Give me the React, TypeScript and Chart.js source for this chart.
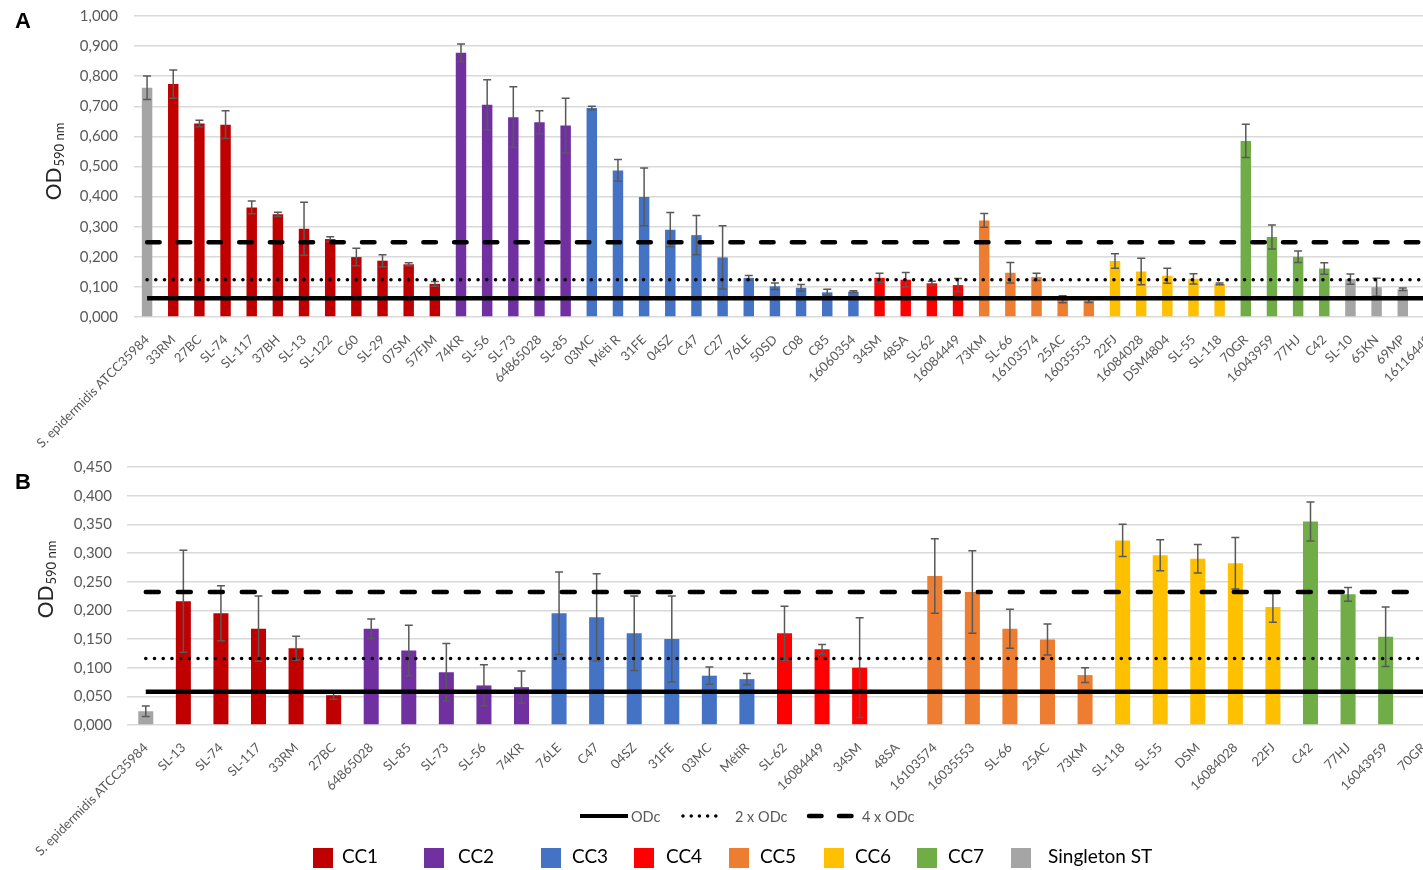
import React, { useEffect, useRef } from 'react';
import { Chart, registerables } from 'chart.js';

Chart.register(...registerables);
Chart.defaults.font.family = "Lato, 'Open Sans', sans-serif";

// ---------- colours per clonal complex ----------
const GROUP_COLORS: Record<string, string> = {
  CC1: '#C00000',
  CC2: '#7030A0',
  CC3: '#4472C4',
  CC4: '#FF0000',
  CC5: '#ED7D31',
  CC6: '#FFC000',
  CC7: '#70AD47',
  ST: '#A5A5A5',
};
const legendGroups = ['CC1', 'CC2', 'CC3', 'CC4', 'CC5', 'CC6', 'CC7', 'ST'];
const legendNames = ['CC1', 'CC2', 'CC3', 'CC4', 'CC5', 'CC6', 'CC7', 'Singleton ST'];
const lineLegendNames = ['ODc', '2 x ODc', '4 x ODc'];

// ---------- Panel A ----------
const labelsA = [
  'S. epidermidis ATCC35984', '33RM', '27BC', 'SL-74', 'SL-117', '37BH', 'SL-13', 'SL-122', 'C60', 'SL-29', '07SM', '57FJM',
  '74KR', 'SL-56', 'SL-73', '64865028', 'SL-85',
  '03MC', 'Méti R', '31FE', '04SZ', 'C47', 'C27', '76LE', '50SD', 'C08', 'C85', '16060354',
  '34SM', '48SA', 'SL-62', '16084449',
  '73KM', 'SL-66', '16103574', '25AC', '16035553',
  '22FJ', '16084028', 'DSM4804', 'SL-55', 'SL-118',
  '70GR', '16043959', '77HJ', 'C42',
  'SL-10', '65KN', '69MP', '16116449',
];
const groupsA = [
  'ST', 'CC1', 'CC1', 'CC1', 'CC1', 'CC1', 'CC1', 'CC1', 'CC1', 'CC1', 'CC1', 'CC1',
  'CC2', 'CC2', 'CC2', 'CC2', 'CC2',
  'CC3', 'CC3', 'CC3', 'CC3', 'CC3', 'CC3', 'CC3', 'CC3', 'CC3', 'CC3', 'CC3',
  'CC4', 'CC4', 'CC4', 'CC4',
  'CC5', 'CC5', 'CC5', 'CC5', 'CC5',
  'CC6', 'CC6', 'CC6', 'CC6', 'CC6',
  'CC7', 'CC7', 'CC7', 'CC7',
  'ST', 'ST', 'ST', 'ST',
];
const valuesA = [
  0.762, 0.774, 0.643, 0.639, 0.364, 0.341, 0.293, 0.259, 0.199, 0.187, 0.175, 0.110,
  0.878, 0.705, 0.664, 0.647, 0.636,
  0.694, 0.487, 0.399, 0.290, 0.272, 0.198, 0.130, 0.102, 0.097, 0.082, 0.084,
  0.130, 0.124, 0.112, 0.106,
  0.321, 0.147, 0.133, 0.059, 0.054,
  0.186, 0.151, 0.137, 0.127, 0.110,
  0.585, 0.266, 0.200, 0.161,
  0.126, 0.099, 0.092, 0.090,
];
const errorsA = [
  0.039, 0.047, 0.011, 0.046, 0.021, 0.007, 0.088, 0.008, 0.029, 0.020, 0.005, 0.008,
  0.029, 0.083, 0.101, 0.038, 0.091,
  0.006, 0.036, 0.096, 0.057, 0.065, 0.105, 0.008, 0.011, 0.011, 0.010, 0.003,
  0.015, 0.024, 0.007, 0.022,
  0.023, 0.034, 0.012, 0.012, 0.006,
  0.024, 0.044, 0.025, 0.017, 0.003,
  0.055, 0.040, 0.019, 0.019,
  0.017, 0.030, 0.004, 0.010,
];
const ODC_A = 0.062;
const yTicksA = { max: 1.0, step: 0.1 };

// ---------- Panel B ----------
const labelsB = [
  'S. epidermidis ATCC35984', 'SL-13', 'SL-74', 'SL-117', '33RM', '27BC',
  '64865028', 'SL-85', 'SL-73', 'SL-56', '74KR',
  '76LE', 'C47', '04SZ', '31FE', '03MC', 'MétiR',
  'SL-62', '16084449', '34SM', '48SA',
  '16103574', '16035553', 'SL-66', '25AC', '73KM',
  'SL-118', 'SL-55', 'DSM', '16084028', '22FJ',
  'C42', '77HJ', '16043959', '70GR',
];
const groupsB = [
  'ST', 'CC1', 'CC1', 'CC1', 'CC1', 'CC1',
  'CC2', 'CC2', 'CC2', 'CC2', 'CC2',
  'CC3', 'CC3', 'CC3', 'CC3', 'CC3', 'CC3',
  'CC4', 'CC4', 'CC4', 'CC4',
  'CC5', 'CC5', 'CC5', 'CC5', 'CC5',
  'CC6', 'CC6', 'CC6', 'CC6', 'CC6',
  'CC7', 'CC7', 'CC7', 'CC7',
];
const valuesB: (number | null)[] = [
  0.024, 0.216, 0.195, 0.168, 0.134, 0.052,
  0.168, 0.130, 0.092, 0.069, 0.066,
  0.195, 0.188, 0.160, 0.150, 0.086, 0.080,
  0.160, 0.132, 0.100, null,
  0.260, 0.232, 0.168, 0.149, 0.087,
  0.322, 0.296, 0.290, 0.282, 0.206,
  0.355, 0.228, 0.154, null,
];
const errorsB = [
  0.009, 0.089, 0.048, 0.057, 0.021, 0.007,
  0.017, 0.044, 0.050, 0.036, 0.028,
  0.072, 0.076, 0.065, 0.075, 0.015, 0.010,
  0.047, 0.0085, 0.087, 0,
  0.065, 0.072, 0.034, 0.027, 0.013,
  0.028, 0.027, 0.025, 0.045, 0.027,
  0.034, 0.012, 0.052, 0,
];
const ODC_B = 0.058;
const yTicksB = { max: 0.45, step: 0.05 };

// ---------- plugins ----------
const errorBarPlugin = {
  id: 'errorBars',
  afterDatasetDraw(chart: any, args: any) {
    const ds: any = chart.data.datasets[args.index];
    if (!ds.errors) return;
    const y = chart.scales.y;
    const ctx = chart.ctx;
    ctx.save();
    ctx.strokeStyle = '#595959';
    ctx.lineWidth = 1.5;
    args.meta.data.forEach((el: any, i: number) => {
      const v = ds.data[i];
      const e = ds.errors[i];
      if (v == null || !e) return;
      const yt = y.getPixelForValue(v + e);
      const yb = y.getPixelForValue(v - e);
      const x = el.x;
      const cap = 4;
      ctx.beginPath();
      ctx.moveTo(x, yt);
      ctx.lineTo(x, yb);
      ctx.moveTo(x - cap, yt);
      ctx.lineTo(x + cap, yt);
      ctx.moveTo(x - cap, yb);
      ctx.lineTo(x + cap, yb);
      ctx.stroke();
    });
    ctx.restore();
  },
};

const odTitlePlugin = {
  id: 'odTitle',
  afterDraw(chart: any, _args: any, opts: any) {
    const ctx = chart.ctx;
    ctx.save();
    ctx.translate(opts.x, opts.y);
    ctx.rotate(-Math.PI / 2);
    ctx.fillStyle = '#262626';
    ctx.textAlign = 'left';
    ctx.textBaseline = 'alphabetic';
    const big = "21px Lato, 'Open Sans', sans-serif";
    const small = "13px Lato, 'Open Sans', sans-serif";
    ctx.font = big;
    const w1 = ctx.measureText('OD').width;
    ctx.font = small;
    const w2 = ctx.measureText('590 nm').width;
    const start = -(w1 + w2) / 2;
    ctx.font = big;
    ctx.fillText('OD', start, 0);
    ctx.font = small;
    ctx.fillText('590 nm', start + w1 + 1, 3);
    ctx.restore();
  },
};

type Params = {
  labels: string[];
  values: (number | null)[];
  errors: number[];
  groups: string[];
  odc: number;
  yMax: number;
  step: number;
  padTop: number;
  yWidth: number;
  xHeight: number;
  tickPad: number;
  titleX: number;
  titleY: number;
  dash: number[];
};

function makeConfig(p: Params): any {
  return {
    type: 'bar',
    data: {
      labels: p.labels,
      datasets: [
        {
          type: 'line', label: lineLegendNames[0], data: p.labels.map(() => p.odc),
          borderColor: '#000', borderWidth: 4.5, pointRadius: 0, order: 0,
        },
        {
          type: 'line', label: lineLegendNames[1], data: p.labels.map(() => 2 * p.odc),
          borderColor: '#000', borderWidth: 3.6, borderDash: [0.01, 8.7], borderCapStyle: 'round',
          pointRadius: 0, order: 0,
        },
        {
          type: 'line', label: lineLegendNames[2], data: p.labels.map(() => 4 * p.odc),
          borderColor: '#000', borderWidth: 4.5, borderDash: p.dash, borderCapStyle: 'round',
          pointRadius: 0, order: 0,
        },
        {
          type: 'bar', label: 'OD590', data: p.values, errors: p.errors,
          backgroundColor: p.groups.map((g) => GROUP_COLORS[g]),
          barPercentage: 0.4, categoryPercentage: 1, order: 1,
        },
      ],
    },
    options: {
      responsive: false,
      animation: false,
      devicePixelRatio: 1,
      layout: { padding: { top: p.padTop, right: 8, bottom: 0, left: 0 } },
      plugins: {
        legend: { display: false },
        tooltip: { enabled: false },
        odTitle: { x: p.titleX, y: p.titleY },
      },
      scales: {
        x: {
          grid: { display: false },
          border: { display: false },
          ticks: {
            autoSkip: false, minRotation: 45, maxRotation: 45,
            color: '#595959', font: { size: 13 }, padding: 7,
          },
          afterFit: (s: any) => { s.height = p.xHeight; },
        },
        y: {
          min: 0, max: p.yMax,
          ticks: {
            stepSize: p.step, color: '#595959', font: { size: 15 }, padding: p.tickPad,
            callback: (v: any) => Number(v).toFixed(3).replace('.', ','),
          },
          grid: { color: '#D9D9D9', lineWidth: 1.5, drawTicks: false },
          border: { display: false },
          afterFit: (s: any) => {
            s.width = p.yWidth;
            s.paddingTop = 0;
            s.paddingBottom = 0;
          },
        },
      },
    },
    plugins: [errorBarPlugin, odTitlePlugin],
  };
}

function ChartCanvas({ config, width, height, top }: { config: any; width: number; height: number; top: number }) {
  const ref = useRef<HTMLCanvasElement>(null);
  useEffect(() => {
    const chart = new Chart(ref.current as HTMLCanvasElement, config);
    return () => chart.destroy();
  }, []);
  return (
    <canvas
      ref={ref}
      width={width}
      height={height}
      style={{ position: 'absolute', left: 0, top, width, height, display: 'block' }}
    />
  );
}

const legendBoxLefts = [313, 424, 541, 634, 729, 824, 917, 1011];
const legendTextLefts = [342, 458, 572, 666, 760, 855, 948, 1048];

export default function App() {
  const configA = makeConfig({
    labels: labelsA, values: valuesA, errors: errorsA, groups: groupsA, odc: ODC_A,
    yMax: yTicksA.max, step: yTicksA.step, padTop: 16, yWidth: 134, xHeight: 133, tickPad: 16,
    titleX: 61, titleY: 162, dash: [12.5, 18.2],
  });
  const configB = makeConfig({
    labels: labelsB, values: valuesB, errors: errorsB, groups: groupsB, odc: ODC_B,
    yMax: yTicksB.max, step: yTicksB.step, padTop: 17, yWidth: 127, xHeight: 145, tickPad: 15,
    titleX: 53, titleY: 130, dash: [13, 19],
  });

  return (
    <div
      style={{
        position: 'absolute', left: 0, top: 0, width: 1423, height: 870, overflow: 'hidden',
        background: '#fff', fontFamily: "Lato, 'Open Sans', sans-serif",
      }}
    >
      <ChartCanvas config={configA} width={1450} height={450} top={0} />
      <ChartCanvas config={configB} width={1450} height={420} top={450} />

      <div style={{ position: 'absolute', left: 15, top: 10, fontFamily: "'Liberation Sans', Arial, sans-serif", fontWeight: 'bold', fontSize: 22, lineHeight: 1 }}>A</div>
      <div style={{ position: 'absolute', left: 15, top: 471, fontFamily: "'Liberation Sans', Arial, sans-serif", fontWeight: 'bold', fontSize: 22, lineHeight: 1 }}>B</div>

      <svg style={{ position: 'absolute', left: 570, top: 804 }} width={360} height={24}>
        <line x1={10} y1={12} x2={58} y2={12} stroke="#000" strokeWidth={4} />
        <text x={61} y={12} fill="#595959" fontSize={14.5} dominantBaseline="central" fontFamily="Lato, 'Open Sans', sans-serif">{lineLegendNames[0]}</text>
        <line x1={113} y1={12} x2={154} y2={12} stroke="#000" strokeWidth={3.5} strokeDasharray="0.01 8.2" strokeLinecap="round" />
        <text x={165} y={12} fill="#595959" fontSize={14.5} dominantBaseline="central" fontFamily="Lato, 'Open Sans', sans-serif">{lineLegendNames[1]}</text>
        <line x1={239} y1={12} x2={283} y2={12} stroke="#000" strokeWidth={4.5} strokeDasharray="12.5 17.5" strokeLinecap="round" />
        <text x={292} y={12} fill="#595959" fontSize={14.5} dominantBaseline="central" fontFamily="Lato, 'Open Sans', sans-serif">{lineLegendNames[2]}</text>
      </svg>

      {legendGroups.map((g, i) => (
        <React.Fragment key={g}>
          <div style={{ position: 'absolute', left: legendBoxLefts[i], top: 848, width: 20, height: 20, background: GROUP_COLORS[g] }} />
          <div style={{ position: 'absolute', left: legendTextLefts[i], top: 844, fontSize: 19, lineHeight: '24px', color: '#000', whiteSpace: 'nowrap' }}>
            {legendNames[i]}
          </div>
        </React.Fragment>
      ))}
    </div>
  );
}
